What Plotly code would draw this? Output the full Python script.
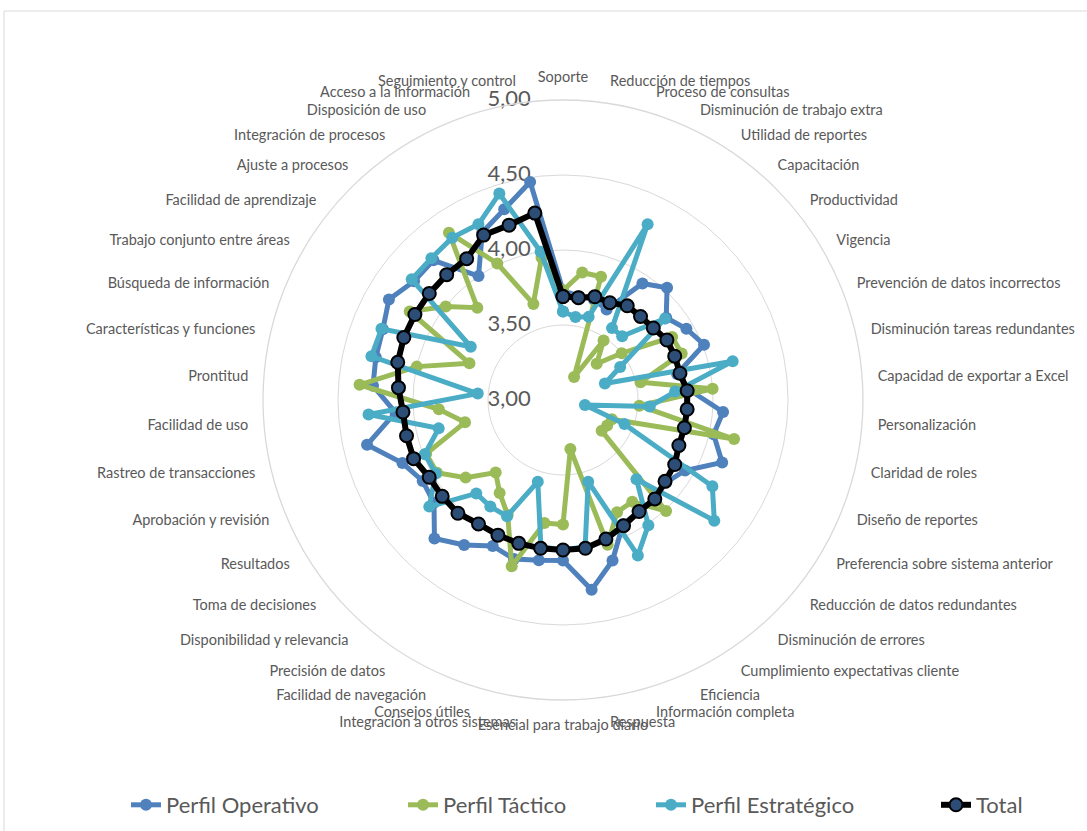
import plotly.graph_objects as go

# Categorías del radar, en sentido horario desde arriba
categorias = [
    "Soporte", "Reducción de tiempos", "Proceso de consultas", "Disminución de trabajo extra",
    "Utilidad de reportes", "Capacitación", "Productividad", "Vigencia",
    "Prevención de datos incorrectos", "Disminución tareas redundantes",
    "Capacidad de exportar a Excel", "Personalización", "Claridad de roles",
    "Diseño de reportes", "Preferencia sobre sistema anterior",
    "Reducción de datos redundantes", "Disminución de errores",
    "Cumplimiento expectativas cliente", "Eficiencia", "Información completa",
    "Respuesta", "Esencial para trabajo diario", "Integración a otros sistemas",
    "Consejos útiles", "Facilidad de navegación", "Precisión de datos",
    "Disponibilidad y relevancia", "Toma de decisiones", "Resultados",
    "Aprobación y revisión", "Rastreo de transacciones", "Facilidad de uso",
    "Prontitud", "Características y funciones", "Búsqueda de información",
    "Trabajo conjunto entre áreas", "Facilidad de aprendizaje", "Ajuste a procesos",
    "Integración de procesos", "Disposición de uso", "Acceso a la información",
    "Seguimiento y control",
]

perfil_operativo = [
    3.73, 3.70, 3.70, 3.67, 3.94, 4.02, 3.88, 3.95, 4.01, 3.78, 3.85, 4.07, 4.03, 4.14,
    3.94, 3.88, 3.90, 3.90, 3.92, 4.12, 4.28, 4.07, 4.08, 4.11, 4.08, 4.17, 4.26, 4.10,
    4.08, 4.15, 4.34, 4.12, 4.27, 4.28, 4.29, 4.34, 4.27, 4.27, 4.00, 4.24, 4.33, 4.47,
]

perfil_tactico = [
    3.73, 3.86, 3.86, 3.17, 3.48, 3.33, 3.50, 3.84, 3.85, 3.53, 4.00, 3.51, 4.17, 3.35,
    3.34, 3.33, 4.01, 3.82, 3.83, 4.01, 3.33, 3.83, 3.83, 4.16, 3.85, 3.75, 3.66, 3.83,
    3.97, 3.98, 3.67, 3.83, 4.36, 4.00, 3.67, 4.18, 4.00, 3.84, 4.35, 4.01, 3.67, 3.96,
]

perfil_estrategico = [
    3.59, 3.56, 3.58, 4.30, 3.58, 3.58, 3.87, 3.44, 3.30, 4.16, 3.75, 3.58, 3.15, 3.44,
    4.15, 4.29, 3.72, 4.01, 4.15, 3.57, 3.99, 4.00, 3.99, 3.57, 3.86, 3.86, 3.85, 4.14,
    3.98, 3.99, 3.85, 4.30, 3.57, 4.31, 4.30, 3.71, 4.29, 4.29, 4.31, 4.30, 4.44, 4.00,
]

total = [
    3.69, 3.69, 3.72, 3.72, 3.76, 3.76, 3.77, 3.80, 3.80, 3.80, 3.83, 3.83, 3.83, 3.83,
    3.86, 3.87, 3.90, 3.90, 3.93, 3.97, 4.00, 4.00, 4.00, 4.00, 4.00, 4.00, 4.03, 4.03,
    4.03, 4.07, 4.07, 4.07, 4.10, 4.13, 4.14, 4.14, 4.14, 4.14, 4.14, 4.22, 4.22, 4.26,
]

escala = [3.0, 3.5, 4.0, 4.5, 5.0]
escala_txt = ["3,00", "3,50", "4,00", "4,50", "5,00"]

FUENTE = "Lato, Open Sans, sans-serif"
GRIS = "#595959"

series = [
    ("Perfil Operativo", perfil_operativo, "#4F81BD", "legend"),
    ("Perfil Táctico", perfil_tactico, "#9BBB59", "legend2"),
    ("Perfil Estratégico", perfil_estrategico, "#4BACC6", "legend3"),
]

fig = go.Figure()


def cerrar(lista):
    return list(lista) + [lista[0]]


# Etiquetas de la escala radial, a la izquierda del eje de "Soporte"
fig.add_trace(go.Scatterpolar(
    r=escala, theta=[categorias[0]] * len(escala), text=escala_txt,
    mode="markers+text", textposition="middle left",
    marker=dict(size=50, opacity=0),
    textfont=dict(size=22, color=GRIS, family=FUENTE),
    showlegend=False, hoverinfo="skip",
))

for nombre, valores, color, ley in series:
    fig.add_trace(go.Scatterpolar(
        r=cerrar(valores), theta=cerrar(categorias), name=nombre, legend=ley,
        mode="lines+markers",
        line=dict(color=color, width=5),
        marker=dict(size=12, color=color, line=dict(width=0)),
    ))

fig.add_trace(go.Scatterpolar(
    r=cerrar(total), theta=cerrar(categorias), name="Total", legend="legend4",
    mode="lines+markers",
    line=dict(color="#000000", width=6),
    marker=dict(size=13, color="#2C4D75", line=dict(color="#000000", width=2)),
))

W, H = 1087, 831
cx, cy, R = 563, 400, 300

ley_base = dict(
    orientation="h", xanchor="left", y=(H - 805) / H, yanchor="middle",
    font=dict(size=22, color=GRIS, family=FUENTE), bgcolor="rgba(0,0,0,0)",
)
inicio_texto = [168, 445, 693, 978]

fig.update_layout(
    width=W, height=H,
    margin=dict(l=0, r=0, t=0, b=0),
    paper_bgcolor="white",
    font=dict(family=FUENTE, color=GRIS),
    polar=dict(
        domain=dict(x=[(cx - R) / W, (cx + R) / W], y=[(H - cy - R) / H, (H - cy + R) / H]),
        bgcolor="white",
        radialaxis=dict(
            range=[3, 5], tickvals=escala, showticklabels=False,
            angle=90, showline=False, ticks="", gridcolor="#D9D9D9", gridwidth=1.3,
        ),
        angularaxis=dict(
            direction="clockwise", rotation=90,
            showgrid=False, showline=True, linecolor="#D9D9D9", linewidth=1.3,
            ticks="outside", ticklen=12, tickcolor="rgba(0,0,0,0)",
            tickfont=dict(size=14.5, color=GRIS, family=FUENTE),
        ),
    ),
    legend=dict(ley_base, x=(inicio_texto[0] - 42) / W),
    legend2=dict(ley_base, x=(inicio_texto[1] - 42) / W),
    legend3=dict(ley_base, x=(inicio_texto[2] - 42) / W),
    legend4=dict(ley_base, x=(inicio_texto[3] - 42) / W),
    shapes=[dict(
        type="rect", xref="paper", yref="paper",
        x0=4 / W, x1=1.01, y0=-0.01, y1=1 - 11 / H,
        line=dict(color="#D9D9D9", width=1),
    )],
)

fig.write_html("out.html")
